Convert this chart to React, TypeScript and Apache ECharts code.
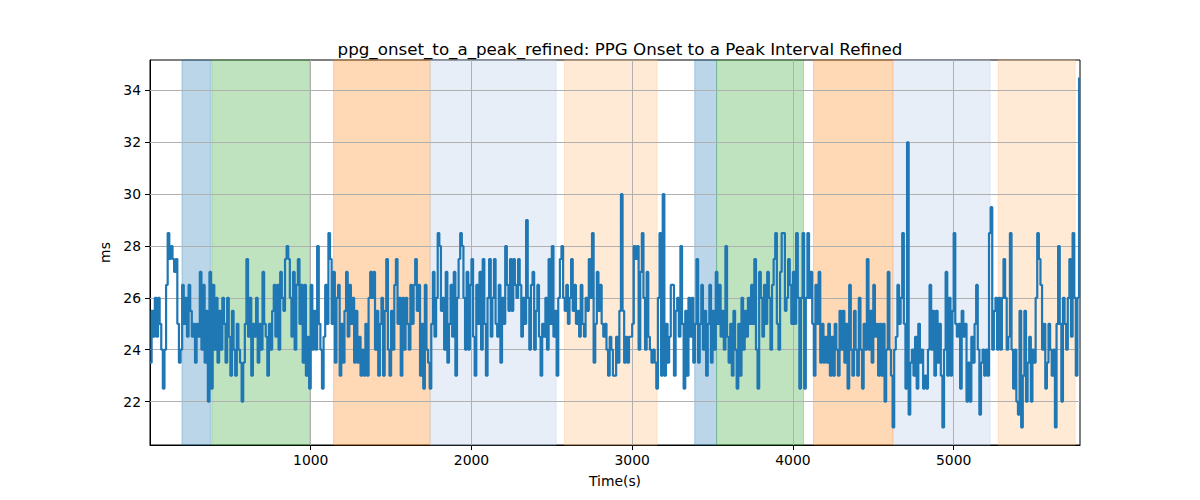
import React, { useEffect, useRef } from "react";
import * as echarts from "echarts";

const TITLE = "ppg_onset_to_a_peak_refined: PPG Onset to a Peak Interval Refined";
const X_NAME = "Time(s)";
const Y_NAME = "ms";
const STEP_S = 10;

const seg1 = [
  23.5, 25.5, 24.5, 26, 24.5, 26, 25, 24, 22.5, 24,
  26.5, 28.5, 27.5, 28, 27.5, 27, 27.5, 25, 23.5, 24,
  26.5, 25, 26, 24.5, 26.5, 25.5, 24.5, 25, 23.5, 25,
  24.5, 27, 24, 26.5, 23.5, 25.5, 22, 27, 22.5, 26.5,
  24, 26, 23.5, 25.5, 24, 26, 25, 23.5, 26, 24.5,
  23, 25.5, 24, 23, 25, 24, 23.5, 22, 23.5, 25,
  27.5, 24.5, 26, 23, 25, 24.5, 26, 23.5, 25, 24,
  27, 25, 24.5, 23, 25, 24, 25.5, 26.5, 24.5, 26.5,
  24, 27, 26, 25.5, 27.5, 28, 27.5, 26, 24.5, 27,
  24, 26.5, 27.5, 25, 26.5, 23.5, 26.5,
];
const seg2 = [
  23, 24.5, 22.5, 26.5, 24, 25.5, 24, 28, 25, 24,
  22.5, 24.5, 26.5, 25, 28.5, 27.5, 25, 27, 23.5, 26,
  26.5, 23, 25, 23.5, 25.5, 27, 24.5, 26.5, 25, 26,
  23.5, 25.5, 23.5, 24.5, 23, 24, 23, 25, 23, 26,
  27, 26, 27, 24, 25.5, 23, 25, 26, 23, 25.5,
  27.5, 24, 23, 25.5, 24, 26.5, 27.5, 25, 26, 23,
  26, 24, 26, 25, 24, 26.5, 25, 26.5, 27.5, 25.5,
  26.5, 23, 25, 22.5, 26.5, 24, 23.5, 22.5, 25, 27,
  24.5, 26, 28.5, 28, 25.5, 26, 24, 27, 23.5, 25,
  26.5, 24.5, 27, 23, 26, 27.5,
];
const seg3 = [
  28.5, 28, 26, 24, 27, 24, 26.5, 27.5, 24.5, 23,
  26.5, 25, 27, 24, 27.5, 25, 23, 26, 27.5, 24.5,
  26, 27.5, 25, 24.5, 26.5, 23.5, 26, 25, 28, 26.5,
  25.5, 27.5, 25.5, 27.5, 26.5, 26, 27.5, 26.5, 24.5, 26,
  25, 29, 26, 24, 26.5, 27, 24, 25.5, 26.5, 24.5,
  23, 25, 24.5, 26, 24, 27.5, 25, 28, 24.5, 25.5,
  23, 26, 27.5, 28, 26, 25.5, 26.5, 25, 26, 27.5,
  25.5, 26.5, 25, 25.5, 24.5, 26.5, 25, 24.5, 26, 25.5,
  27.5, 26, 28.5, 23.5, 25, 27, 25.5, 26.5, 25, 24.5,
  25, 24, 23, 24.5, 24, 23,
];
const seg4 = [
  23, 24.5, 23.5, 25.5, 30, 25.5, 23.5, 24.5, 23.5, 24.5,
  24.5, 25, 28, 27.5, 28, 24, 27, 28.5, 26, 24,
  27, 24.5, 24, 23.5, 24, 23.5, 22.5, 26, 28.5, 23,
  30, 23, 25, 23.5, 24.5, 26.5, 26.5, 23, 25.5, 26,
  24.5, 28, 25, 22.5, 25.5, 23, 26, 24.5, 26, 23.5,
  25, 27.5, 23.5, 25, 26.5, 24, 25.5, 23, 25, 26.5,
  23.5, 25.5, 24, 27, 25, 26.5, 24.5, 25.5, 24, 28,
  24.5, 23.5, 25, 23, 25.5, 24, 22.5, 25, 23, 26,
  24, 25.5, 24.5, 26, 25, 26.5, 25, 27.5, 24, 22.5,
  27, 26, 24.5, 26.5, 25, 27, 26,
];
const seg5 = [
  24, 26.5, 27.5, 28.5, 25, 24, 27, 28.5, 28.5, 25.5,
  26, 27.5, 26.5, 25, 27, 25, 28.5, 26, 22.5, 26,
  28.5, 22.5, 26, 28.5, 26, 27, 25, 23, 26.5, 25,
  27, 23.5, 25, 23.5, 24.5, 23.5, 25, 23, 24.5, 23,
  25, 24, 23, 25.5, 24, 25.5, 23.5, 25, 22.5, 26.5,
  24, 23, 25.5, 24, 23, 26, 24, 22.5, 25, 24,
  27.5, 24, 25.5, 23.5, 26.5, 24.5, 25, 23, 25, 23,
  25, 22, 24, 27, 24, 23, 21, 24, 24.5, 26.5,
  25, 26, 28.5, 25, 22.5, 32, 21.5, 23.5, 24, 23,
  24.5, 22.5, 25, 23.5, 24, 22.5,
];
const seg6 = [
  23, 22.5, 24, 26.5, 24, 25.5, 23, 25.5, 23.5, 25,
  23, 21, 24, 27, 23, 26, 23, 25.5, 28.5, 25,
  24.5, 25, 22.5, 25.5, 24.5, 25, 22, 23.5, 22, 24.5,
  23.5, 25, 26.5, 24, 21.5, 23.5, 24, 23, 24, 23,
  28.5, 29.5, 24, 25.5, 26, 24, 26, 24, 26, 27.5,
  26, 24, 24.5, 28.5, 24, 22.5, 24, 22, 21.5, 25.5,
  21, 23, 25.5, 22, 23.5, 24.5, 22, 24, 23.5, 26,
  28.5, 27.5, 26.5, 24, 25, 22.5, 23.5, 25, 24, 23,
  24, 21, 25, 28, 25, 22, 26, 25, 24, 26,
  27.5, 24.5, 28.5, 26, 23, 26, 34.5,
];

const xTicks = [1000, 2000, 3000, 4000, 5000];
const yTicks = [22, 24, 26, 28, 30, 32, 34];

const spanStarts = [199, 384, 1142, 1743, 2578, 3389, 3525, 4128, 4624, 5277];
const spanEnds = [376, 993, 1743, 2527, 3155, 3525, 4066, 4622, 5227, 5756];
const spanColors = [
  "rgba(31,119,180,0.3)",
  "rgba(44,160,44,0.3)",
  "rgba(255,127,14,0.3)",
  "rgba(174,199,232,0.3)",
  "rgba(255,187,120,0.3)",
  "rgba(31,119,180,0.3)",
  "rgba(44,160,44,0.3)",
  "rgba(255,127,14,0.3)",
  "rgba(174,199,232,0.3)",
  "rgba(255,187,120,0.3)",
];

const FONT = "DejaVu Sans";

export default function App() {
  const ref = useRef<HTMLDivElement>(null);
  useEffect(() => {
    document.body.style.margin = "0";
    if (!ref.current) return;
    const chart = echarts.init(ref.current, null, { renderer: "svg" });
    const values = [...seg1, ...seg2, ...seg3, ...seg4, ...seg5, ...seg6];
    const points = values.map((v, i) => [i * STEP_S, v]);
    const labelStyle = { color: "#000", fontSize: 13.9, fontFamily: FONT };
    chart.setOption({
      animation: false,
      title: {
        text: TITLE,
        left: 615,
        top: 35,
        textAlign: "center",
        textStyle: { color: "#000", fontSize: 16.7, fontWeight: "normal", fontFamily: FONT },
      },
      grid: { left: 150, right: 120, top: 60, bottom: 55, show: true, borderColor: "#000", borderWidth: 1 },
      xAxis: {
        type: "value",
        min: 0,
        max: 5786,
        name: X_NAME,
        nameLocation: "middle",
        nameGap: 29,
        nameTextStyle: labelStyle,
        axisLine: { show: true, onZero: false, lineStyle: { color: "#000", width: 1 } },
        axisTick: { show: true, length: 5, customValues: xTicks, lineStyle: { color: "#000" } },
        axisLabel: { ...labelStyle, customValues: xTicks, margin: 8, formatter: (v: number) => String(v) },
        splitLine: { show: false },
      },
      yAxis: {
        type: "value",
        min: 20.325,
        max: 35.175,
        name: Y_NAME,
        nameLocation: "middle",
        nameGap: 38,
        nameTextStyle: labelStyle,
        axisLine: { show: true, onZero: false, lineStyle: { color: "#000", width: 1 } },
        axisTick: { show: true, length: 5, customValues: yTicks, lineStyle: { color: "#000" } },
        axisLabel: { ...labelStyle, customValues: yTicks, margin: 9, formatter: (v: number) => String(v) },
        splitLine: { show: false },
      },
      series: [
        {
          type: "line",
          data: [],
          z: 1,
          silent: true,
          markArea: {
            silent: true,
            z: 1,
            data: spanStarts.map((s, i) => [
              { xAxis: s, itemStyle: { color: spanColors[i], borderColor: spanColors[i], borderWidth: 1 } },
              { xAxis: spanEnds[i] },
            ]),
          },
        },
        {
          type: "line",
          data: [],
          z: 2,
          silent: true,
          markLine: {
            silent: true,
            z: 2,
            symbol: ["none", "none"],
            label: { show: false },
            lineStyle: { color: "#b0b0b0", width: 1, type: "solid" },
            emphasis: { disabled: true },
            data: [...yTicks.map((v) => ({ yAxis: v })), ...xTicks.map((v) => ({ xAxis: v }))],
          },
        },
        {
          type: "line",
          data: points,
          z: 3,
          step: "end",
          showSymbol: false,
          symbol: "none",
          lineStyle: { color: "#1f77b4", width: 2.2 },
          itemStyle: { color: "#1f77b4" },
        },
      ],
    });
    return () => chart.dispose();
  }, []);
  return <div ref={ref} style={{ width: 1200, height: 500 }} />;
}
